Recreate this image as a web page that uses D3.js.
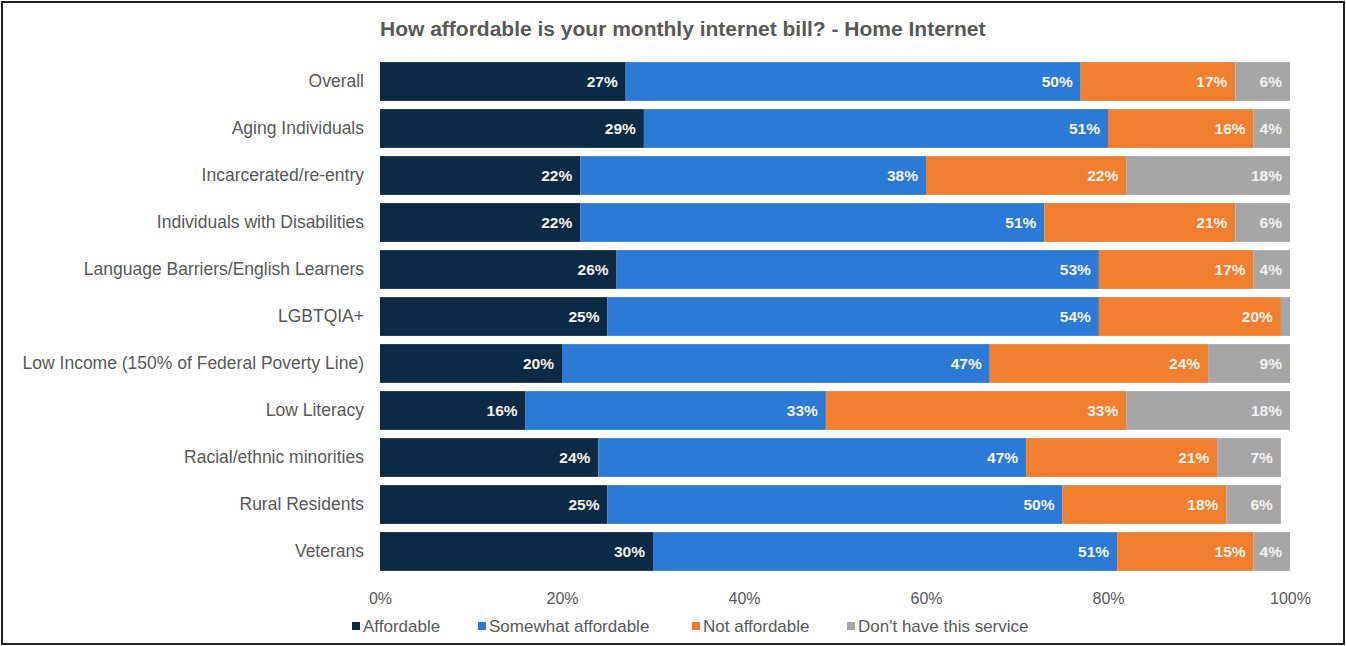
<!DOCTYPE html>
<html>
<head>
<meta charset="utf-8">
<script src="https://cdn.jsdelivr.net/npm/d3@7"></script>
<style>
  body { margin: 0; background: #fff; }
  text { font-family: "Liberation Sans", Arial, sans-serif; }
</style>
</head>
<body>
<script>
// chart data
var categories = ["Overall", "Aging Individuals", "Incarcerated/re-entry", "Individuals with Disabilities",
  "Language Barriers/English Learners", "LGBTQIA+", "Low Income (150% of Federal Poverty Line)",
  "Low Literacy ", "Racial/ethnic minorities", "Rural Residents", "Veterans"];
var seriesNames = ["Affordable", "Somewhat affordable", "Not affordable", "Don't have this service"];
var affordable = [27, 29, 22, 22, 26, 25, 20, 16, 24, 25, 30];
var somewhat = [50, 51, 38, 51, 53, 54, 47, 33, 47, 50, 51];
var notAffordable = [17, 16, 22, 21, 17, 20, 24, 33, 21, 18, 15];
var noService = [6, 4, 18, 6, 4, 1, 9, 18, 7, 6, 4];
var tickValues = [0, 20, 40, 60, 80, 100];

var colors = ["#0d2a45", "#2b7bd6", "#f07f2f", "#a6a6a6"];

var W = 1346, H = 646;
var margin = {top: 62, left: 380, right: 56, bottom: 78};

var svg = d3.select("body").append("svg")
    .attr("width", W)
    .attr("height", H);

// outer frame
svg.append("rect")
    .attr("x", 2).attr("y", 2)
    .attr("width", W - 4).attr("height", H - 4)
    .attr("fill", "#fff")
    .attr("stroke", "#222")
    .attr("stroke-width", 2);

svg.append("text")
    .attr("x", 380).attr("y", 36)
    .attr("text-anchor", "start")
    .attr("font-size", 21)
    .attr("font-weight", "bold")
    .attr("fill", "#595959")
    .text("How affordable is your monthly internet bill? - Home Internet");

var x = d3.scaleLinear().domain([0, 100]).range([margin.left, W - margin.right]);
var y = d3.scaleBand().domain(categories)
    .range([margin.top - 4, 571 + 4])
    .paddingInner(0.175).paddingOuter(0.0875);

var rows = categories.map(function(c, i) {
  return {cat: c, vals: [affordable[i], somewhat[i], notAffordable[i], noService[i]]};
});

var stack = d3.stack().keys([0, 1, 2, 3])(rows.map(function(r) { return r.vals; }));

var g = svg.append("g");
stack.forEach(function(layer, k) {
  g.selectAll(".seg" + k)
    .data(layer)
    .enter().append("rect")
    .attr("x", function(d) { return x(d[0]); })
    .attr("y", function(d, i) { return y(categories[i]); })
    .attr("width", function(d) { return x(d[1]) - x(d[0]); })
    .attr("height", y.bandwidth())
    .attr("fill", colors[k]);

  g.selectAll(".lab" + k)
    .data(layer.filter(function(d) { return d[1] - d[0] >= 2; }))
    .enter().append("text")
    .attr("x", function(d) { return x(d[1]) - 8; })
    .attr("y", function(d) { return y(categories[layer.indexOf(d)]) + y.bandwidth() / 2; })
    .attr("dy", "0.36em")
    .attr("text-anchor", "end")
    .attr("font-size", 15.5)
    .attr("font-weight", "bold")
    .attr("fill", k === 3 ? "#f2f2f2" : "#f4f0e8")
    .text(function(d) { return (d[1] - d[0]) + "%"; });
});

// category labels
svg.append("g")
  .attr("transform", "translate(" + (margin.left - 16) + ",0)")
  .call(d3.axisLeft(y).tickSize(0).tickPadding(0))
  .call(function(a) { a.select(".domain").remove(); })
  .selectAll("text")
    .attr("font-size", 17.5)
    .attr("fill", "#595959")
    .style("font-family", "'Liberation Sans', Arial, sans-serif");

// x axis
svg.append("g")
  .attr("transform", "translate(0,583)")
  .call(d3.axisBottom(x).tickValues(tickValues).tickSize(0).tickPadding(10)
        .tickFormat(function(d) { return d + "%"; }))
  .call(function(a) { a.select(".domain").remove(); })
  .selectAll("text")
    .attr("font-size", 16)
    .attr("fill", "#595959")
    .style("font-family", "'Liberation Sans', Arial, sans-serif");

// legend
var legendX = [352, 478, 692, 847];
var leg = svg.append("g").selectAll("g")
  .data(seriesNames)
  .enter().append("g")
  .attr("transform", function(d, i) { return "translate(" + legendX[i] + ",626)"; });
leg.append("rect")
  .attr("x", 0).attr("y", -4)
  .attr("width", 8).attr("height", 8)
  .attr("fill", function(d, i) { return colors[i]; });
leg.append("text")
  .attr("x", 11)
  .attr("dy", "0.36em")
  .attr("font-size", 17)
  .attr("fill", "#595959")
  .text(function(d) { return d; });
</script>
</body>
</html>
